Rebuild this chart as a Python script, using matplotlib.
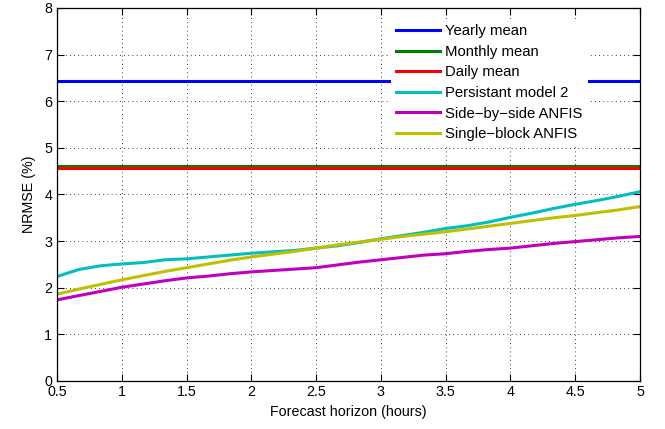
import numpy as np
import matplotlib
matplotlib.use("Agg")
import matplotlib.pyplot as plt

plt.rcParams['font.family'] = ['Liberation Sans', 'DejaVu Sans']

# forecast horizon in hours (10 minute steps)
horizon = np.arange(3, 31) / 6.0

yearly_mean = 6.43
monthly_mean = 4.61
daily_mean = 4.57

persistent2 = [2.24, 2.39, 2.47, 2.51, 2.54, 2.60, 2.62, 2.66, 2.70, 2.74,
               2.77, 2.80, 2.85, 2.90, 2.97, 3.05, 3.12, 3.19, 3.27, 3.33,
               3.41, 3.51, 3.60, 3.70, 3.79, 3.87, 3.96, 4.06]
side_by_side = [1.74, 1.83, 1.92, 2.01, 2.08, 2.15, 2.21, 2.25, 2.30, 2.34,
                2.37, 2.40, 2.43, 2.49, 2.55, 2.60, 2.65, 2.70, 2.73, 2.78,
                2.82, 2.85, 2.90, 2.95, 2.99, 3.03, 3.07, 3.10]
single_block = [1.86, 1.97, 2.07, 2.17, 2.26, 2.35, 2.43, 2.51, 2.59, 2.66,
                2.72, 2.78, 2.85, 2.92, 2.98, 3.04, 3.10, 3.15, 3.20, 3.26,
                3.32, 3.38, 3.44, 3.50, 3.55, 3.61, 3.67, 3.74]

fig = plt.figure(figsize=(6.65, 4.29), dpi=100)
ax = fig.add_axes([0.0857, 0.1119, 0.8767, 0.8695])

lw = 2.2
ax.plot(horizon, np.full(len(horizon), yearly_mean), color=(0, 0, 1), lw=lw, label='Yearly mean')
ax.plot(horizon, np.full(len(horizon), monthly_mean), color=(0, 0.5, 0), lw=lw, label='Monthly mean')
ax.plot(horizon, np.full(len(horizon), daily_mean), color=(1, 0, 0), lw=lw, label='Daily mean')
ax.plot(horizon, persistent2, color=(0, 0.75, 0.75), lw=lw, label='Persistant model 2')
ax.plot(horizon, side_by_side, color=(0.75, 0, 0.75), lw=lw, label='Side\u2212by\u2212side ANFIS')
ax.plot(horizon, single_block, color=(0.75, 0.75, 0), lw=lw, label='Single\u2212block ANFIS')

ax.set_xlim(0.5, 5)
ax.set_ylim(0, 8)
ax.set_xticks([0.5, 1, 1.5, 2, 2.5, 3, 3.5, 4, 4.5, 5])
ax.set_xticklabels(['0.5', '1', '1.5', '2', '2.5', '3', '3.5', '4', '4.5', '5'])
ax.set_yticks(range(9))
ax.grid(True, color='black', linestyle=(0, (1, 4)), linewidth=0.6)
ax.tick_params(direction='in', top=True, right=True, length=5, labelsize=10.3, width=0.8)
ax.tick_params(axis='x', pad=3)
for s in ax.spines.values():
    s.set_linewidth(0.9)

ax.set_xlabel('Forecast horizon (hours)', fontsize=10.3, labelpad=4)
ax.set_ylabel('NRMSE (%)', fontsize=10.3, labelpad=6)

leg = ax.legend(loc='upper left', bbox_to_anchor=(0.568, 0.978), fontsize=10.7,
                handlelength=2.95, labelspacing=0.44, borderpad=0.35,
                handletextpad=0.35, borderaxespad=0.2, fancybox=False, framealpha=1)
leg.get_frame().set_edgecolor('white')
leg.get_frame().set_linewidth(0)

plt.savefig('out.png', dpi=100)
